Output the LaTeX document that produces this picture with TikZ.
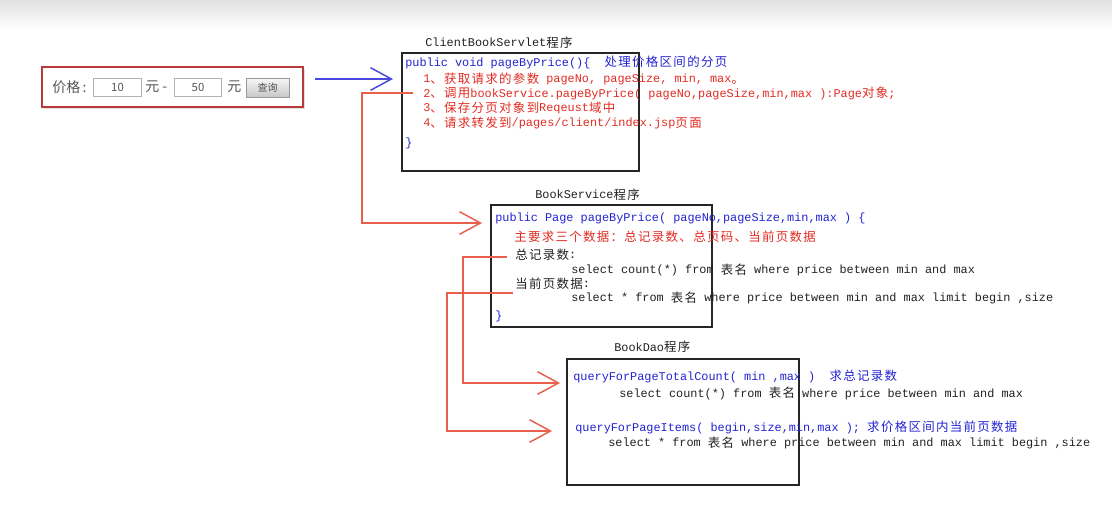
\documentclass[tikz,border=0pt]{standalone}
\usepackage{fontspec}
\usepackage{xcolor}
\usetikzlibrary{arrows.meta,shadows}
\setmonofont{Liberation Mono}
\newfontfamily\cjk{Noto Sans CJK SC}[Scale=1.05, LetterSpace=10.5]
\newfontfamily\uifont{Noto Sans CJK SC}
\newcommand\zh[1]{\raisebox{-0.7pt}{\cjk #1}}
\definecolor{codeblue}{HTML}{2323D2}
\definecolor{codered}{HTML}{E22B22}
\definecolor{codegray}{HTML}{222222}
\definecolor{wirered}{HTML}{E8604C}
\definecolor{wireblue}{HTML}{4848E0}
\definecolor{formred}{HTML}{B83A3A}
\definecolor{formgray}{HTML}{555555}

\tikzset{
  code/.style={anchor=base west, inner sep=0pt, font=\ttfamily\fontsize{8.9}{10}\selectfont},
  progbox/.style={draw=black!85, line width=1.1pt, inner sep=0pt},
  ui/.style={anchor=west, inner sep=0pt, text=formgray, font=\uifont\fontsize{10.5}{12}\selectfont},
  inputbox/.style={draw=black!30, line width=0.7pt, fill=white, inner sep=0pt, minimum width=35.5pt, minimum height=13.5pt, text=formgray, font=\uifont\fontsize{8.5}{10}\selectfont},
  wire/.style={line width=1.1pt, -{Straight Barb[length=15.75pt,width=17pt]}}
}

\begin{document}
\begin{tikzpicture}[x=0.75pt, y=-0.75pt]
  \useasboundingbox (0,0) rectangle (1112,510);
  \shade[top color=black!12, bottom color=white] (0,0) rectangle (1112,30);

  \node[draw=formred, line width=1.2pt, fill=white, drop shadow={opacity=0.25, shadow xshift=1.5pt, shadow yshift=-1.5pt}, minimum width=195.75pt, minimum height=30pt, inner sep=0pt] (form) at (172.5,87) {};
  \node[ui] (pricelbl) at (52,87) {价格\,:};
  \node[inputbox] (minbox) at (117.5,87) {10};
  \node[ui] (yuan1) at (145,87) {元 -};
  \node[inputbox] (maxbox) at (198,87) {50};
  \node[ui] (yuan2) at (227,87) {元};
  \node[draw=black!40, line width=0.7pt, top color=black!3, bottom color=black!22, minimum width=32.25pt, minimum height=14.25pt, inner sep=0pt, text=formgray, font=\uifont\fontsize{7.5}{9}\selectfont] (query) at (267.5,87.5) {查询};

  \node[progbox, minimum width=177.75pt, minimum height=88.5pt] (servlet) at (520.5,112) {};
  \node[progbox, minimum width=165.75pt, minimum height=91.5pt] (service) at (601.5,266) {};
  \node[progbox, minimum width=174pt, minimum height=94.5pt] (dao) at (683,422) {};

  \node[code, text=codegray] (servlettitle) at (425,46.5) {ClientBookServlet\zh{程序}};
  \node[code, text=codeblue] (sv1) at (405,66) {public void pageByPrice()\{\ \ \zh{处理价格区间的分页}};
  \node[code, text=codered] (sv2) at (423,82.5) {1\zh{、获取请求的参数} pageNo, pageSize, min, max\zh{。}};
  \node[code, text=codered] (sv3) at (423,97) {2\zh{、调用}bookService.pageByPrice( pageNo,pageSize,min,max ):Page\zh{对象};};
  \node[code, text=codered] (sv4) at (423,111.5) {3\zh{、保存分页对象到}Reqeust\zh{域中}};
  \node[code, text=codered] (sv5) at (423,126.5) {4\zh{、请求转发到}/pages/client/index.jsp\zh{页面}};
  \node[code, text=codeblue] (sv6) at (405,146) {\}};

  \node[code, text=codegray] (servicetitle) at (535,198.5) {BookService\zh{程序}};
  \node[code, text=codeblue] (bs1) at (495,221) {public Page pageByPrice( pageNo,pageSize,min,max ) \{};
  \node[code, text=codered] (bs2) at (514,241) {\zh{主要求三个数据：总记录数、总页码、当前页数据}};
  \node[code, text=codegray] (bs3) at (515,258.5) {\zh{总记录数}:};
  \node[code, text=codegray] (bs4) at (571,273.5) {select count(*) from \zh{表名} where price between min and max};
  \node[code, text=codegray] (bs5) at (515,287.5) {\zh{当前页数据}:};
  \node[code, text=codegray] (bs6) at (571,301.5) {select * from \zh{表名} where price between min and max limit begin ,size};
  \node[code, text=codeblue] (bs7) at (495,319.5) {\}};

  \node[code, text=codegray] (daotitle) at (614,351) {BookDao\zh{程序}};
  \node[code, text=codeblue] (bd1) at (573,380) {queryForPageTotalCount( min ,max )\ \ \zh{求总记录数}};
  \node[code, text=codegray] (bd2) at (619,397) {select count(*) from \zh{表名} where price between min and max};
  \node[code, text=codeblue] (bd3) at (575,431) {queryForPageItems( begin,size,min,max ); \zh{求价格区间内当前页数据}};
  \node[code, text=codegray] (bd4) at (608,446.5) {select * from \zh{表名} where price between min and max limit begin ,size};

  \coordinate (formout) at (315,79);
  \coordinate (servletin) at (393,79);
  \coordinate (callout) at (413,93);
  \coordinate (servicein) at (482,223);
  \coordinate (countout) at (507,257);
  \coordinate (countin) at (560,383);
  \coordinate (itemsout) at (513,293);
  \coordinate (itemsin) at (552,431);

  \draw[wireblue, wire] (formout) -- (servletin);
  \draw[wirered, wire] (callout) -- ++(-51,0) |- (servicein);
  \draw[wirered, wire] (countout) -- ++(-44,0) |- (countin);
  \draw[wirered, wire] (itemsout) -- ++(-66,0) |- (itemsin);
\end{tikzpicture}
\end{document}
